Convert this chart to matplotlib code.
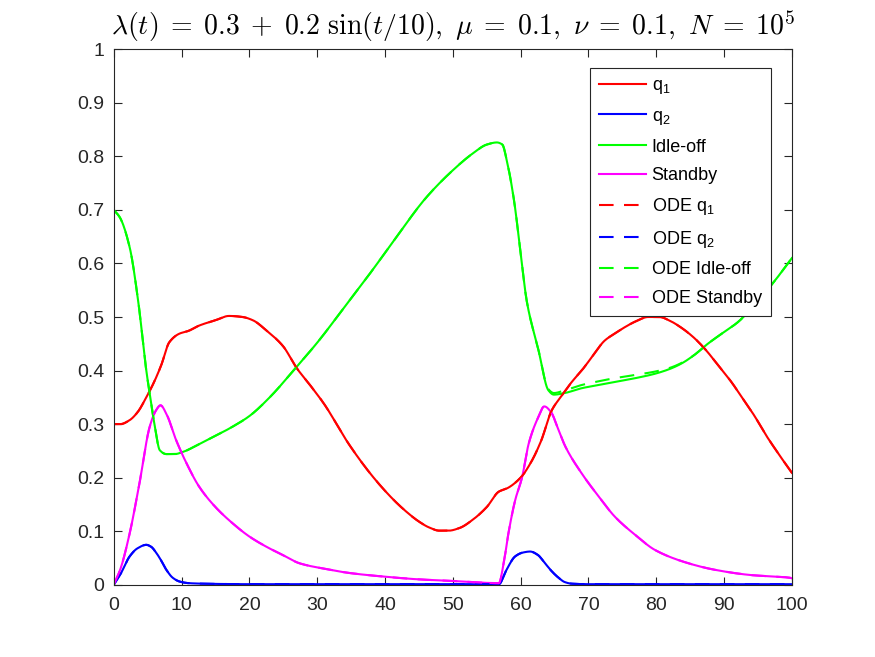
import numpy as np
import matplotlib
matplotlib.use("Agg")
import matplotlib.pyplot as plt

plt.rcParams['font.family'] = ['Liberation Sans', 'DejaVu Sans']
plt.rcParams['mathtext.fontset'] = 'cm'

# --- data ---
t_q1 = [0, 1, 2.3, 3.5, 4.8, 6, 7, 8.2, 9.7, 11, 12.6, 15, 17, 19, 20.5, 22.5, 25, 26.9, 29, 31, 34.7,
        38, 41, 43, 45, 46.5, 48, 49.4, 51, 53, 55, 56.8, 58, 60, 61.5, 63, 64.6, 66, 67.5, 69, 70.5,
        72.4, 74, 75.5, 77, 78.8, 80.5, 82, 83.7, 85.5, 87.2, 89, 91, 93, 94.5, 96, 98, 100]
q1 = [0.30, 0.30, 0.307, 0.322, 0.35, 0.38, 0.41, 0.453, 0.469, 0.474, 0.484, 0.494, 0.502, 0.500, 0.494,
      0.475, 0.445, 0.406, 0.372, 0.338, 0.262, 0.205, 0.162, 0.138, 0.118, 0.107, 0.101, 0.101, 0.106,
      0.122, 0.145, 0.174, 0.180, 0.200, 0.228, 0.268, 0.326, 0.352, 0.378, 0.400, 0.425, 0.456, 0.470,
      0.482, 0.492, 0.500, 0.500, 0.493, 0.480, 0.462, 0.440, 0.412, 0.380, 0.343, 0.315, 0.283, 0.245, 0.209]

t_q2 = [0, 1, 2.35, 3.5, 4.8, 5.5, 6.3, 7, 7.75, 8.7, 9.7, 11, 13, 20, 40, 56.8, 57.8, 59.2, 60.3,
        61.4, 62.5, 63.6, 64.6, 65.6, 66.5, 67.5, 70, 80, 100]
q2 = [0.0, 0.02, 0.053, 0.068, 0.0745, 0.071, 0.059, 0.045, 0.028, 0.013, 0.006, 0.003, 0.002, 0.001,
      0.001, 0.001, 0.025, 0.053, 0.060, 0.062, 0.056, 0.040, 0.025, 0.013, 0.005, 0.002, 0.001, 0.001, 0.001]

t_idle = [0, 0.9, 2.35, 3.6, 4.8, 5.3, 6.0, 6.8, 7.75, 9, 10.2, 12.5, 15, 17.5, 20, 23, 26.9, 30, 34.7,
          38, 42, 46, 50, 53, 55, 56.5, 57.3, 58, 59, 60, 60.9, 62.6, 64.1, 64.9, 66.5, 69, 71.5, 74, 77,
          79.8, 82, 83.7, 85.5, 87.6, 90, 92, 95, 97.5, 100]
idle = [0.70, 0.686, 0.63, 0.53, 0.40, 0.357, 0.30, 0.251, 0.244, 0.244, 0.248, 0.262, 0.278, 0.295,
        0.315, 0.35, 0.406, 0.452, 0.53, 0.585, 0.655, 0.722, 0.774, 0.806, 0.822, 0.826, 0.822, 0.79,
        0.72, 0.62, 0.53, 0.44, 0.363, 0.355, 0.358, 0.367, 0.373, 0.379, 0.386, 0.394, 0.403, 0.413,
        0.428, 0.45, 0.472, 0.49, 0.53, 0.568, 0.61]

t_stby = [0, 1, 2.35, 3.8, 5.3, 6.2, 6.9, 7.8, 9.2, 10.8, 12.6, 15, 17.5, 20, 22.5, 25, 27.4, 31, 34.7,
          40, 45, 50, 56.8, 57.5, 58.2, 59.2, 60.2, 61.2, 62.5, 63.5, 64.5, 65.5, 66.6, 69, 71.5, 73.9,
          77, 79.8, 84, 88.6, 94, 99.7, 100]
stby = [0.0, 0.03, 0.096, 0.19, 0.295, 0.325, 0.335, 0.318, 0.27, 0.225, 0.183, 0.145, 0.115, 0.09,
        0.071, 0.055, 0.040, 0.030, 0.022, 0.015, 0.010, 0.007, 0.003, 0.04, 0.096, 0.158, 0.20, 0.264,
        0.31, 0.333, 0.322, 0.292, 0.258, 0.208, 0.165, 0.127, 0.092, 0.065, 0.043, 0.028, 0.018, 0.013, 0.012]

# ODE solutions (almost identical to the simulation, idle-off slightly above after t=65)
ode_q1 = q1
ode_q2 = q2
ode_stby = stby
t_ode_idle = t_idle
ode_idle = [0.70, 0.686, 0.63, 0.53, 0.40, 0.357, 0.30, 0.251, 0.244, 0.244, 0.248, 0.262, 0.278, 0.295,
            0.315, 0.35, 0.406, 0.452, 0.53, 0.585, 0.655, 0.722, 0.774, 0.806, 0.822, 0.826, 0.822, 0.79,
            0.72, 0.62, 0.53, 0.44, 0.365, 0.358, 0.363, 0.373, 0.380, 0.386, 0.392, 0.398, 0.405, 0.414,
            0.428, 0.45, 0.472, 0.49, 0.53, 0.568, 0.61]


def pchip(x, y, n=1500):
    """Monotone cubic Hermite curve through the read points (for smooth drawing)."""
    x = np.asarray(x, float)
    y = np.asarray(y, float)
    h = np.diff(x)
    d = np.diff(y) / h
    m = np.zeros_like(y)
    for k in range(1, len(x) - 1):
        if d[k - 1] * d[k] > 0:
            w1 = 2 * h[k] + h[k - 1]
            w2 = h[k] + 2 * h[k - 1]
            m[k] = (w1 + w2) / (w1 / d[k - 1] + w2 / d[k])
    m[0] = d[0]
    m[-1] = d[-1]
    xs = np.linspace(x[0], x[-1], n)
    idx = np.clip(np.searchsorted(x, xs) - 1, 0, len(x) - 2)
    s = (xs - x[idx]) / h[idx]
    h00 = 2 * s**3 - 3 * s**2 + 1
    h10 = s**3 - 2 * s**2 + s
    h01 = -2 * s**3 + 3 * s**2
    h11 = s**3 - s**2
    ys = h00 * y[idx] + h10 * h[idx] * m[idx] + h01 * y[idx + 1] + h11 * h[idx] * m[idx + 1]
    return xs, ys


fig = plt.figure(figsize=(8.75, 6.57), dpi=100)
ax = fig.add_axes([0.13, 0.11, 0.775, 0.815])

lw = 1.5
dash = (0, (7, 5))
ax.plot(*pchip(t_q1, q1), color='#ff0000', lw=lw, label='q$_\\mathregular{1}$')
ax.plot(*pchip(t_q2, q2), color='#0000ff', lw=lw, label='q$_\\mathregular{2}$')
ax.plot(*pchip(t_idle, idle), color='#00ff00', lw=lw, label='Idle-off')
ax.plot(*pchip(t_stby, stby), color='#ff00ff', lw=lw, label='Standby')
ax.plot(*pchip(t_q1, ode_q1), color='#ff0000', lw=lw, ls=dash, label='ODE q$_\\mathregular{1}$')
ax.plot(*pchip(t_q2, ode_q2), color='#0000ff', lw=lw, ls=dash, label='ODE q$_\\mathregular{2}$')
ax.plot(*pchip(t_ode_idle, ode_idle), color='#00ff00', lw=lw, ls=dash, label='ODE Idle-off')
ax.plot(*pchip(t_stby, ode_stby), color='#ff00ff', lw=lw, ls=dash, label='ODE Standby')

ax.set_xlim(0, 100)
ax.set_ylim(0, 1)
ax.set_xticks(np.arange(0, 101, 10))
ax.set_yticks(np.arange(0, 1.01, 0.1))
ax.set_yticklabels(['0', '0.1', '0.2', '0.3', '0.4', '0.5', '0.6', '0.7', '0.8', '0.9', '1'])
ax.tick_params(direction='in', top=True, right=True, length=6, width=0.8,
               labelsize=14, colors='#262626')
ax.tick_params(axis='x', pad=9)
ax.tick_params(axis='y', pad=7)
for s in ax.spines.values():
    s.set_color('#262626')
    s.set_linewidth(0.8)

ax.set_title(r'$\lambda(t)\;=\;0.3\;+\;0.2\ \sin(t/10),\ \mu\;=\;0.1,\ \nu\;=\;0.1,\ N\;=\;10^5$',
             fontsize=20, pad=10)

leg = ax.legend(loc='upper right', bbox_to_anchor=(0.969, 0.965), borderaxespad=0,
                fontsize=13, handlelength=2.6, handletextpad=0.3, labelspacing=0.65,
                fancybox=False, edgecolor='#262626', framealpha=1, borderpad=0.5)
leg.get_frame().set_linewidth(0.8)

fig.savefig('out.png', dpi=100)
